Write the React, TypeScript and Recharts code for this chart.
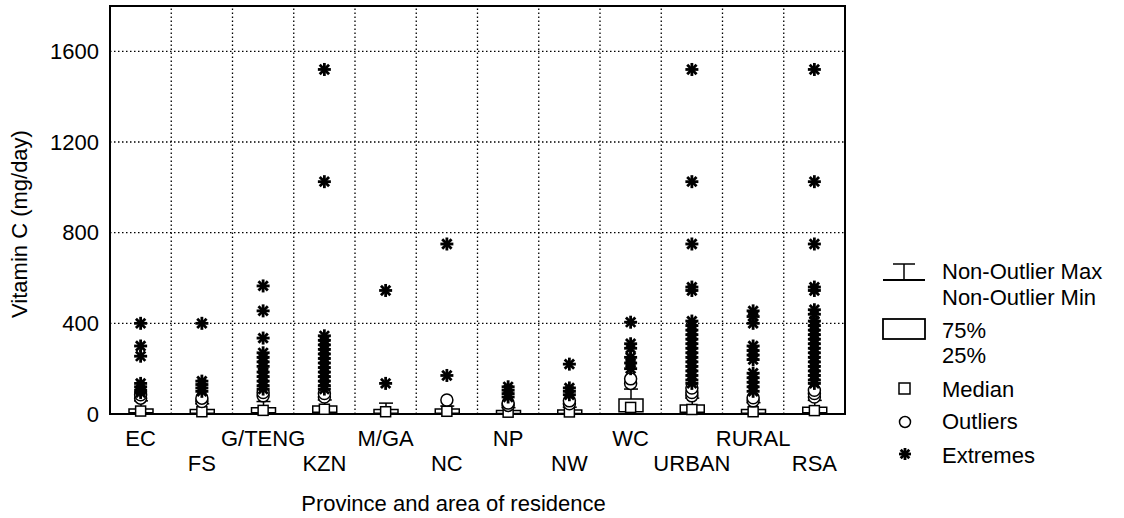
import {
  ComposedChart,
  Bar,
  Scatter,
  XAxis,
  YAxis,
  CartesianGrid,
  ReferenceLine,
  ReferenceArea,
  Label,
} from 'recharts';

const provinces = ['EC', 'FS', 'G/TENG', 'KZN', 'M/GA', 'NC', 'NP', 'NW', 'WC', 'URBAN', 'RURAL', 'RSA'];
const q1 = [5, 3, 5, 8, 3, 3, 2, 2, 10, 8, 3, 5];
const medians = [13, 10, 16, 21, 10, 12, 8, 9, 29, 20, 10, 15];
const q3 = [22, 20, 28, 35, 20, 22, 15, 18, 66, 40, 20, 30];
const whiskerMax = [58, 45, 55, 62, 48, 35, 28, 30, 110, 70, 50, 60];

const outliers = [
  [70, 85],
  [55, 70],
  [80, 95],
  [75, 90],
  [],
  [62],
  [38, 48],
  [45, 58],
  [135, 155],
  [80, 95, 115],
  [58, 72],
  [75, 90, 105],
];

const extremes = [
  [400, 300, 255, 135, 120, 105, 95],
  [400, 145, 130, 115, 100],
  [565, 455, 335, 270, 250, 230, 210, 185, 165, 145, 125, 110],
  [1520, 1025, 345, 325, 305, 285, 265, 245, 225, 205, 185, 165, 145, 125, 110],
  [545, 135],
  [750, 170],
  [120, 105, 90, 75],
  [220, 115, 100, 85],
  [405, 310, 290, 250, 225, 200],
  [1520, 1025, 750, 560, 545, 410, 390, 370, 350, 330, 310, 290, 270, 250, 230, 210, 190, 170, 150, 135],
  [455, 430, 400, 300, 280, 260, 240, 180, 160, 140, 120, 100],
  [1520, 1025, 750, 560, 545, 460, 440, 410, 390, 370, 350, 330, 310, 290, 270, 250, 230, 210, 190, 170, 150, 135],
];

const yTicks = [0, 400, 800, 1200, 1600];
const dividers = [1, 2, 3, 4, 5, 6, 7, 8, 9, 10, 11];

// stacked bars: invisible base up to q1, box q1..q3, whisker q3..max
const boxRows = provinces.map((name, i) => ({
  name,
  base: q1[i],
  box: q3[i] - q1[i],
  whisker: whiskerMax[i] - q3[i],
}));
const medianPoints = provinces.map((_, i) => ({ x: i + 0.5, v: medians[i] }));
const outlierPoints = outliers.flatMap((vals, i) => vals.map((v) => ({ x: i + 0.5, v })));
const extremePoints = extremes.flatMap((vals, i) => vals.map((v) => ({ x: i + 0.5, v })));

const FONT = '"Liberation Sans", Arial, sans-serif';

const Whisker = (props: any) => {
  const { x, y, width, height } = props;
  const cx = x + width / 2;
  return (
    <g>
      <line x1={cx} x2={cx} y1={y} y2={y + height} stroke="#000" strokeWidth={1.5} />
      <line x1={cx - 7} x2={cx + 7} y1={y} y2={y} stroke="#000" strokeWidth={1.5} />
    </g>
  );
};

const MedianSquare = (props: any) => (
  <rect x={props.cx - 5} y={props.cy - 5} width={10} height={10} fill="#fff" stroke="#000" strokeWidth={1.5} />
);

const OutlierCircle = (props: any) => (
  <circle cx={props.cx} cy={props.cy} r={6} fill="#fff" stroke="#000" strokeWidth={1.5} />
);

const Asterisk = ({ cx, cy, r = 6.5 }: any) => {
  const d = r * 0.72;
  return (
    <g stroke="#000" strokeWidth={2.8}>
      <line x1={cx - r} x2={cx + r} y1={cy} y2={cy} />
      <line x1={cx} x2={cx} y1={cy - r} y2={cy + r} />
      <line x1={cx - d} x2={cx + d} y1={cy - d} y2={cy + d} />
      <line x1={cx - d} x2={cx + d} y1={cy + d} y2={cy - d} />
      <circle cx={cx} cy={cy} r={2.5} fill="#000" stroke="none" />
    </g>
  );
};

const ProvinceTick = (props: any) => {
  const { x, y, payload, index } = props;
  const row = index % 2;
  return (
    <text x={x} y={y + 24 + row * 25} textAnchor="middle" fontSize={22} fill="#000" fontFamily={FONT}>
      {payload.value}
    </text>
  );
};

const YTitle = (props: any) => {
  const vb = props.viewBox;
  const x = vb.x - 23;
  const y = vb.y + vb.height / 2 + 14;
  return (
    <text x={x} y={y} transform={`rotate(-90 ${x} ${y})`} textAnchor="middle" fontSize={22} fill="#000" fontFamily={FONT}>
      Vitamin C (mg/day)
    </text>
  );
};

const LegendBox = () => (
  <svg width={1124} height={518} style={{ position: 'absolute', left: 0, top: 0, pointerEvents: 'none' }}>
    <g fontFamily={FONT} fontSize={22} fill="#000">
      <line x1={893} x2={915} y1={264} y2={264} stroke="#000" strokeWidth={1.5} />
      <line x1={904} x2={904} y1={264} y2={280} stroke="#000" strokeWidth={1.5} />
      <line x1={883} x2={925} y1={280} y2={280} stroke="#000" strokeWidth={1.8} />
      <text x={942} y={279}>Non-Outlier Max</text>
      <text x={942} y={305}>Non-Outlier Min</text>
      <rect x={883} y={319} width={42} height={20} fill="#fff" stroke="#000" strokeWidth={1.8} />
      <text x={942} y={338}>75%</text>
      <text x={942} y={363}>25%</text>
      <rect x={899} y={383} width={11} height={11} fill="#fff" stroke="#000" strokeWidth={1.5} />
      <text x={942} y={397}>Median</text>
      <circle cx={905} cy={422} r={5.5} fill="#fff" stroke="#000" strokeWidth={1.5} />
      <text x={942} y={429}>Outliers</text>
      <Asterisk cx={905} cy={454} r={6} />
      <text x={942} y={463}>Extremes</text>
    </g>
  </svg>
);

export default function App() {
  return (
    <div style={{ position: 'absolute', left: 0, top: 0, width: 1124, height: 518, background: '#fff', fontFamily: FONT }}>
      <ComposedChart
        width={1124}
        height={518}
        data={boxRows}
        barSize={24}
        margin={{ top: 6, right: 279, left: 50, bottom: 0 }}
      >
        <XAxis xAxisId="grid" type="number" dataKey="x" domain={[0, 12]} hide />
        <XAxis
          xAxisId="cat"
          dataKey="name"
          type="category"
          height={104}
          interval={0}
          axisLine={false}
          tickLine={false}
          tick={<ProvinceTick />}
          label={{
            value: 'Province and area of residence',
            position: 'insideBottom',
            offset: 7,
            dx: -24,
            fontSize: 22,
            fill: '#000',
          }}
        />
        <YAxis
          type="number"
          domain={[0, 1800]}
          ticks={yTicks}
          width={60}
          axisLine={false}
          tickLine={false}
          tickMargin={5}
          tick={{ fontSize: 22, fill: '#000' }}
        >
          <Label content={<YTitle />} />
        </YAxis>
        <CartesianGrid xAxisId="grid" vertical={false} stroke="#000" strokeWidth={1.3} strokeDasharray="1.5 2.5" />
        {dividers.map((d) => (
          <ReferenceLine key={d} xAxisId="grid" x={d} stroke="#000" strokeWidth={1.3} strokeDasharray="1.5 2.5" />
        ))}
        <Bar xAxisId="cat" dataKey="base" stackId="b" fill="none" stroke="none" isAnimationActive={false} />
        <Bar xAxisId="cat" dataKey="box" stackId="b" fill="#fff" stroke="#000" strokeWidth={1.5} isAnimationActive={false} />
        <Bar xAxisId="cat" dataKey="whisker" stackId="b" shape={<Whisker />} isAnimationActive={false} />
        <Scatter xAxisId="grid" data={medianPoints} dataKey="v" shape={<MedianSquare />} isAnimationActive={false} />
        <Scatter xAxisId="grid" data={outlierPoints} dataKey="v" shape={<OutlierCircle />} isAnimationActive={false} />
        <Scatter xAxisId="grid" data={extremePoints} dataKey="v" shape={<Asterisk />} isAnimationActive={false} />
        <ReferenceArea xAxisId="grid" x1={0} x2={12} y1={0} y2={1800} fill="none" stroke="#000" strokeWidth={2} />
      </ComposedChart>
      <LegendBox />
    </div>
  );
}
